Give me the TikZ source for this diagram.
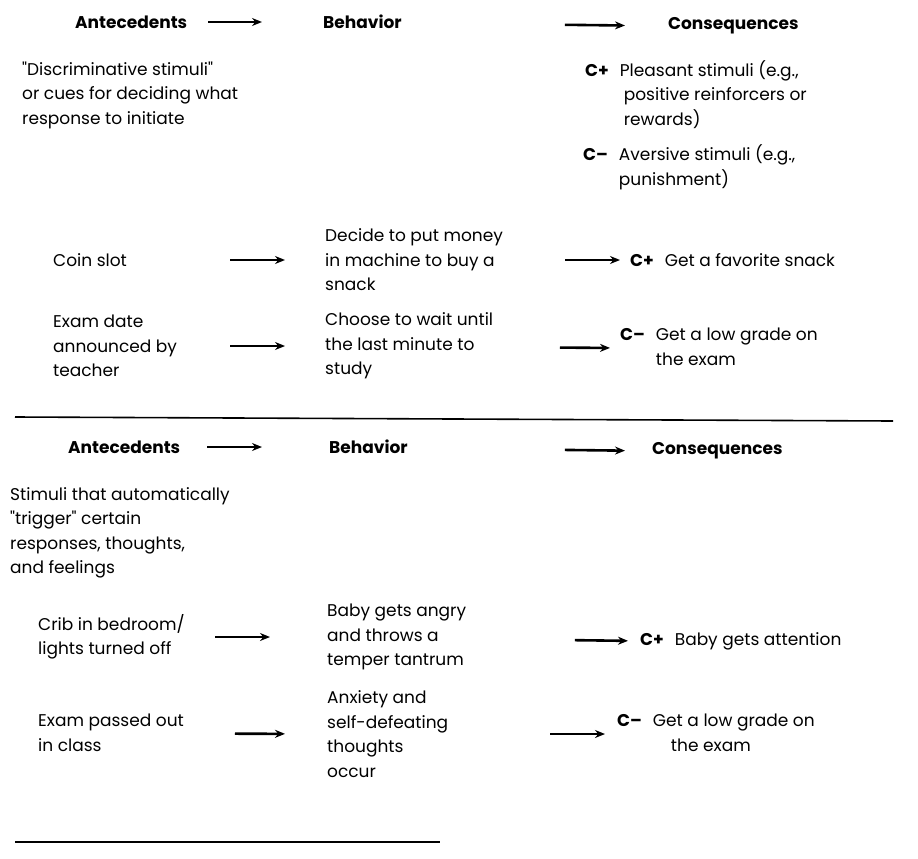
\documentclass[tikz,border=0pt]{standalone}
\usepackage{fontspec}
\setmainfont{Poppins}
\usetikzlibrary{arrows.meta}

\begin{document}
\begin{tikzpicture}[x=1pt, y=-1pt,
  every node/.style={anchor=west, inner sep=0pt, align=left, font=\fontsize{17}{24.5}\selectfont},
  hd/.style={font=\fontsize{17}{24.5}\selectfont\bfseries},
  flow/.style={line width=2.6pt, -{Stealth[length=10pt, width=8pt]}}]
\useasboundingbox (0,0) rectangle (918,859);

\node[hd] (ant1) at (75,22) {Antecedents};
\node[hd] (beh1) at (323,22) {Behavior};
\node[hd] (con1) at (668,26) {Consequences};
\draw[flow, shorten <=133pt, shorten >=61pt] (ant1.west) -- (beh1.west);
\draw[flow, shorten <=242pt, shorten >=43pt] (beh1.west) -- (con1.west);

\node (disc) at (22,95) {\textquotedbl Discriminative stimuli\textquotedbl\\or cues for deciding what\\response to initiate};
\node (cpos) at (585,96) {\begin{tabular}{@{}l@{\hspace{11pt}}l@{}}
\textbf{C+} & Pleasant stimuli (e.g.,\\
 & \hspace{4pt}positive reinforcers or\\
 & \hspace{4pt}rewards)\end{tabular}};
\node (cneg) at (583,168) {\begin{tabular}{@{}l@{\hspace{11pt}}l@{}}
\textbf{C–} & Aversive stimuli (e.g.,\\
 & punishment)\end{tabular}};

\node (coin) at (53,260) {Coin slot};
\node (buy) at (325,260) {Decide to put money\\in machine to buy a\\snack};
\node (snack) at (630,260) {\textbf{C+}\hspace{11pt}Get a favorite snack};
\draw[flow, shorten <=177pt, shorten >=40pt] (coin.west) -- (buy.west);
\draw[flow, shorten <=240pt, shorten >=10pt] (buy.west) -- (snack.west);

\node (exam) at (53,346) {Exam date\\announced by\\teacher};
\node (wait) at (325,346) {Choose to wait until\\the last minute to\\study};
\node (low1) at (620,348) {\begin{tabular}{@{}l@{\hspace{11pt}}l@{}}
\textbf{C–} & Get a low grade on\\
 & the exam\end{tabular}};
\draw[flow, shorten <=177pt, shorten >=40pt] (exam.west) -- (wait.west);
\draw[flow, shorten <=235pt, shorten >=10pt] (wait.west) -- (low1.west);

\draw[line width=1.6pt] (15,417) -- (893,421);

\node[hd] (ant2) at (68,447) {Antecedents};
\node[hd] (beh2) at (329,447) {Behavior};
\node[hd] (con2) at (652,451) {Consequences};
\draw[flow, shorten <=139pt, shorten >=67pt] (ant2.west) -- (beh2.west);
\draw[flow, shorten <=236pt, shorten >=27pt] (beh2.west) -- (con2.west);

\node (auto) at (10,533) {Stimuli that automatically\\\textquotedbl trigger\textquotedbl\ certain\\responses, thoughts,\\and feelings};

\node (crib) at (38,637) {Crib in bedroom/\\lights turned off};
\node (angry) at (327,637) {Baby gets angry\\and throws a\\temper tantrum};
\node (attn) at (640,641) {\textbf{C+}\hspace{11pt}Baby gets attention};
\draw[flow, shorten <=177pt, shorten >=57pt] (crib.west) -- (angry.west);
\draw[flow, shorten <=248pt, shorten >=12pt] (angry.west) -- (attn.west);

\node (pass) at (38,733) {Exam passed out\\in class};
\node (anx) at (327,734) {Anxiety and\\self-defeating\\thoughts\\occur};
\node (low2) at (617,734) {\begin{tabular}{@{}l@{\hspace{11pt}}l@{}}
\textbf{C–} & Get a low grade on\\
 & \hspace{18pt}the exam\end{tabular}};
\draw[flow, shorten <=197pt, shorten >=42pt] (pass.west) -- (anx.west);
\draw[flow, shorten <=223pt, shorten >=12pt] (anx.west) -- (low2.west);

\draw[line width=1.6pt] (15,842) -- (440,842);
\end{tikzpicture}
\end{document}
